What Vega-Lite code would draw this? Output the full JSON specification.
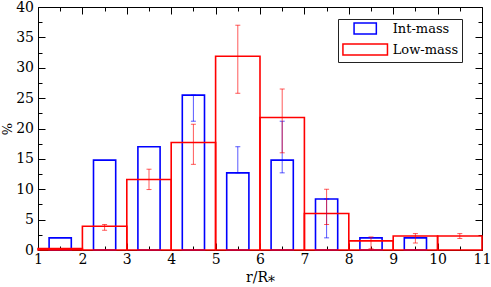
{
  "$schema": "https://vega.github.io/schema/vega-lite/v6.json",
  "width": 444,
  "height": 243,
  "autosize": "none",
  "padding": {"left": 38, "top": 7, "right": 9, "bottom": 37},
  "background": "white",
  "config": {
    "view": {"stroke": null},
    "font": "DejaVu Serif",
    "axis": {
      "grid": false,
      "domainColor": "black",
      "domainWidth": 1,
      "tickColor": "black",
      "tickWidth": 1,
      "labelColor": "black",
      "labelFont": "DejaVu Serif",
      "labelFontSize": 14,
      "titleFont": "DejaVu Serif",
      "titleFontSize": 14,
      "titleFontWeight": "normal",
      "titleColor": "black",
      "labelFlush": false,
      "labelOverlap": false,
      "labelBound": false
    }
  },
  "datasets": {
    "bars": [
      {"series": "Int-mass", "start": 1.25, "end": 1.75, "pct": 2.0},
      {"series": "Int-mass", "start": 2.25, "end": 2.75, "pct": 14.8},
      {"series": "Int-mass", "start": 3.25, "end": 3.75, "pct": 17.0},
      {"series": "Int-mass", "start": 4.25, "end": 4.75, "pct": 25.5},
      {"series": "Int-mass", "start": 5.25, "end": 5.75, "pct": 12.7},
      {"series": "Int-mass", "start": 6.25, "end": 6.75, "pct": 14.8},
      {"series": "Int-mass", "start": 7.25, "end": 7.75, "pct": 8.4},
      {"series": "Int-mass", "start": 8.25, "end": 8.75, "pct": 2.0},
      {"series": "Int-mass", "start": 9.25, "end": 9.75, "pct": 2.0},
      {"series": "Low-mass", "start": 1, "end": 2, "pct": 0.25},
      {"series": "Low-mass", "start": 2, "end": 3, "pct": 3.9},
      {"series": "Low-mass", "start": 3, "end": 4, "pct": 11.6},
      {"series": "Low-mass", "start": 4, "end": 5, "pct": 17.7},
      {"series": "Low-mass", "start": 5, "end": 6, "pct": 31.9},
      {"series": "Low-mass", "start": 6, "end": 7, "pct": 21.8},
      {"series": "Low-mass", "start": 7, "end": 8, "pct": 6.0},
      {"series": "Low-mass", "start": 8, "end": 9, "pct": 1.5},
      {"series": "Low-mass", "start": 9, "end": 10, "pct": 2.3},
      {"series": "Low-mass", "start": 10, "end": 11, "pct": 2.3}
    ],
    "err": [
      {"series": "Int-mass", "r": 4.5, "lo": 21.2, "hi": 25.5},
      {"series": "Int-mass", "r": 5.5, "lo": 12.7, "hi": 17.0},
      {"series": "Int-mass", "r": 6.5, "lo": 12.7, "hi": 21.2},
      {"series": "Int-mass", "r": 7.5, "lo": 2.0, "hi": 8.4},
      {"series": "Low-mass", "r": 2.5, "lo": 3.25, "hi": 4.2},
      {"series": "Low-mass", "r": 3.5, "lo": 9.95, "hi": 13.3},
      {"series": "Low-mass", "r": 4.5, "lo": 14.1, "hi": 20.7},
      {"series": "Low-mass", "r": 5.5, "lo": 25.8, "hi": 37.0},
      {"series": "Low-mass", "r": 6.5, "lo": 16.0, "hi": 26.5},
      {"series": "Low-mass", "r": 7.5, "lo": 4.2, "hi": 10.0},
      {"series": "Low-mass", "r": 8.5, "lo": 0.2, "hi": 2.15},
      {"series": "Low-mass", "r": 9.5, "lo": 1.15, "hi": 2.7},
      {"series": "Low-mass", "r": 10.5, "lo": 1.9, "hi": 2.7}
    ]
  },
  "layer": [
    {
      "data": {"name": "bars"},
      "transform": [{"filter": "datum.series === 'Int-mass'"}],
      "mark": {"type": "rect", "filled": false, "stroke": "#0000ff", "strokeWidth": 1.6},
      "encoding": {
        "x": {
          "field": "start", "type": "quantitative",
          "scale": {"domain": [1, 11], "nice": false, "zero": false},
          "axis": {
            "orient": "bottom",
            "values": [1, 1.5, 2, 2.5, 3, 3.5, 4, 4.5, 5, 5.5, 6, 6.5, 7, 7.5, 8, 8.5, 9, 9.5, 10, 10.5, 11],
            "labelExpr": "datum.value % 1 === 0 ? format(datum.value, 'd') : ''",
            "tickSize": {"condition": {"test": "datum.value % 1 === 0", "value": -7}, "value": -4},
            "labelPadding": 9.5,
            "title": "r/R⁎",
            "titleBaseline": "alphabetic",
            "titleY": 31
          }
        },
        "x2": {"field": "end"},
        "y": {
          "field": "pct", "type": "quantitative",
          "scale": {"domain": [0, 40], "nice": false},
          "axis": {
            "orient": "left",
            "values": [0, 2.5, 5, 7.5, 10, 12.5, 15, 17.5, 20, 22.5, 25, 27.5, 30, 32.5, 35, 37.5, 40],
            "labelExpr": "datum.value % 5 === 0 ? format(datum.value, 'd') : ''",
            "tickSize": {"condition": {"test": "datum.value % 5 === 0", "value": -7}, "value": -4},
            "labelPadding": 11.5,
            "title": "%",
            "titleFontSize": 13,
            "titleX": -24
          }
        },
        "y2": {"datum": 0}
      }
    },
    {
      "data": {"name": "bars"},
      "transform": [{"filter": "datum.series === 'Low-mass'"}],
      "mark": {"type": "rect", "filled": false, "stroke": "#ff0000", "strokeWidth": 1.6},
      "encoding": {
        "x": {
          "field": "start", "type": "quantitative",
          "axis": {
            "orient": "top",
            "values": [1, 1.5, 2, 2.5, 3, 3.5, 4, 4.5, 5, 5.5, 6, 6.5, 7, 7.5, 8, 8.5, 9, 9.5, 10, 10.5, 11],
            "labels": false,
            "title": null,
            "tickSize": {"condition": {"test": "datum.value % 1 === 0", "value": -7}, "value": -4}
          }
        },
        "x2": {"field": "end"},
        "y": {
          "field": "pct", "type": "quantitative",
          "axis": {
            "orient": "right",
            "values": [0, 2.5, 5, 7.5, 10, 12.5, 15, 17.5, 20, 22.5, 25, 27.5, 30, 32.5, 35, 37.5, 40],
            "labels": false,
            "title": null,
            "tickSize": {"condition": {"test": "datum.value % 5 === 0", "value": -7}, "value": -4}
          }
        },
        "y2": {"datum": 0}
      }
    },
    {
      "data": {"name": "err"},
      "transform": [{"filter": "datum.series === 'Int-mass'"}],
      "mark": {"type": "errorbar", "color": "#0000ff", "opacity": 0.65, "thickness": 1, "ticks": {"size": 5, "color": "#0000ff", "opacity": 0.65}},
      "encoding": {
        "x": {"field": "r", "type": "quantitative", "axis": null},
        "y": {"field": "lo", "type": "quantitative", "axis": null},
        "y2": {"field": "hi"}
      }
    },
    {
      "data": {"name": "err"},
      "transform": [{"filter": "datum.series === 'Low-mass'"}],
      "mark": {"type": "errorbar", "color": "#ff0000", "opacity": 0.65, "thickness": 1, "ticks": {"size": 5, "color": "#ff0000", "opacity": 0.65}},
      "encoding": {
        "x": {"field": "r", "type": "quantitative", "axis": null},
        "y": {"field": "lo", "type": "quantitative", "axis": null},
        "y2": {"field": "hi"}
      }
    },
    {
      "data": {"name": "bars"},
      "mark": {"type": "point", "filled": false, "opacity": 0},
      "encoding": {
        "x": {"field": "start", "type": "quantitative", "axis": null},
        "y": {"field": "pct", "type": "quantitative", "axis": null},
        "color": {
          "field": "series", "type": "nominal",
          "scale": {"domain": ["Int-mass", "Low-mass"], "range": ["#0000ff", "#ff0000"]},
          "legend": {
            "title": null,
            "orient": "none",
            "legendX": 300,
            "legendY": 12,
            "direction": "vertical",
            "padding": 3,
            "strokeColor": "#222222",
            "fillColor": "white",
            "symbolSize": 124,
            "symbolStrokeWidth": 1.5,
            "symbolOpacity": 1,
            "symbolFillColor": "transparent",
            "symbolOffset": 17.7,
            "labelOffset": 21,
            "labelFont": "DejaVu Serif",
            "labelFontSize": 13,
            "labelColor": "black",
            "rowPadding": 2
          }
        },
        "shape": {
          "field": "series", "type": "nominal",
          "scale": {"domain": ["Int-mass", "Low-mass"], "range": ["M-2,-1H2V1H-2Z", "M-4,-1H4V1H-4Z"]}
        }
      }
    }
  ],
  "resolve": {"axis": {"x": "independent", "y": "independent"}}
}
